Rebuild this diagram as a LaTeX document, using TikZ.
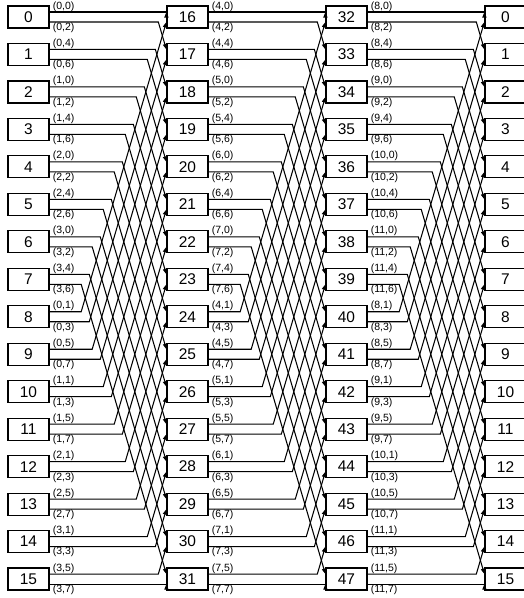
\documentclass[tikz,border=0pt]{standalone}
\usepackage{fontspec}
\setmainfont{Liberation Sans}
\usetikzlibrary{arrows.meta,calc}
\begin{document}
\begin{tikzpicture}[x=1pt,y=-1pt,
  nodebox/.style={draw,line width=1.2pt,minimum width=41pt,minimum height=22pt,inner sep=0pt,font=\fontsize{15.5}{15.5}\selectfont},
  wlabel/.style={inner sep=0pt,font=\fontsize{10.5}{10.5}\selectfont},
  conn/.style={line width=1.05pt,-{Triangle[length=5.5pt,width=4pt]}}]
\useasboundingbox (0,0) rectangle (523,598);
% boxes
\foreach \st in {0,...,3}{
  \foreach \nn in {0,...,15}{
    \pgfmathtruncatemacro{\num}{\st<3 ? 16*\st+\nn : \nn}
    \node[nodebox] (n\st-\nn) at ({28.5+159*\st},{17+37.47*\nn}) {\num};
  }
}
% connectors (perfect shuffle)
\foreach \st in {0,1,2}{
  \pgfmathtruncatemacro{\nx}{\st+1}
  \foreach \nn in {0,...,15}{
    \foreach \bb in {0,1}{
      \pgfmathtruncatemacro{\wi}{2*\nn+\bb}
      \pgfmathtruncatemacro{\pp}{\wi==31 ? 31 : mod(2*\wi,31)}
      \pgfmathtruncatemacro{\mm}{div(\pp,2)}
      \pgfmathtruncatemacro{\qq}{mod(\pp,2)}
      \pgfmathsetmacro{\dyy}{37.47*(\mm-\nn)+10*\qq-10*\bb}
      \pgfmathsetmacro{\dxx}{abs(\dyy)/3.4}
      \pgfmathsetmacro{\ys}{5-10*\bb}
      \pgfmathsetmacro{\yt}{5-10*\qq}
      \path ([xshift=-\dxx pt, yshift=\yt pt]n\nx-\mm.west) coordinate (tt);
      \path ([yshift=\ys pt]n\st-\nn.east) coordinate (ss);
      \path ([yshift=\yt pt]n\nx-\mm.west) coordinate (ee);
      \draw[conn] (ss) -- (ss -| tt) -- (ee);
    }
  }
}
% labels
\foreach \st in {0,1,2}{
  \foreach \nn in {0,...,15}{
    \pgfmathtruncatemacro{\aa}{4*\st+div(mod(\nn,8),2)}
    \pgfmathtruncatemacro{\bu}{4*mod(\nn,2)+(\nn>7)}
    \pgfmathtruncatemacro{\bl}{\bu+2}
    \node[wlabel,anchor=south west] (lu\st-\nn) at ([xshift=3pt,yshift=5.6pt]n\st-\nn.east) {(\aa,\bu)};
    \node[wlabel,anchor=north west] (ll\st-\nn) at ([xshift=3pt,yshift=-5.6pt]n\st-\nn.east) {(\aa,\bl)};
  }
}
\end{tikzpicture}
\end{document}
